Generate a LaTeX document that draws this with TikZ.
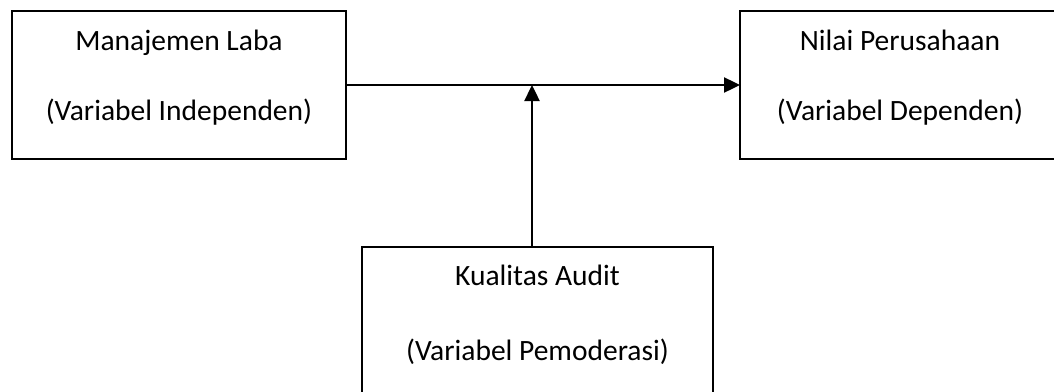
\documentclass[tikz,border=0pt]{standalone}
\usepackage{fontspec}
\setmainfont{Carlito}
\usetikzlibrary{arrows.meta}
\begin{document}
\begin{tikzpicture}[x=1pt,y=-1pt,
  box/.style={draw=black,line width=1.6pt,minimum width=#1,minimum height=148pt,inner sep=0pt,outer sep=0pt},
  lbl/.style={anchor=base,inner sep=0pt,font=\fontsize{29.5}{32}\selectfont},
  conn/.style={line width=2.4pt,-{Triangle[length=16pt,width=15pt]}}]
\useasboundingbox (0,0) rectangle (1054,391);
\clip (0,0) rectangle (1054,391);
\node[box=334pt] (ml) at (179,85) {};
\node[box=320pt] (np) at (900,85) {};
\node[box=351pt] (ka) at (537.5,321) {};
\node[lbl] (ml1) at (179,50) {Manajemen Laba};
\node[lbl] (ml2) at (179,120) {(Variabel Independen)};
\node[lbl] (np1) at (900,50) {Nilai Perusahaan};
\node[lbl] (np2) at (900,120) {(Variabel Dependen)};
\node[lbl] (ka1) at (537.5,285) {Kualitas Audit};
\node[lbl] (ka2) at (537.5,360) {(Variabel Pemoderasi)};
\coordinate (m) at (532,85);
\draw[conn] (ml.east) -- (np.west);
\draw[conn] (ka.north -| m) -- (m);
\end{tikzpicture}
\end{document}
